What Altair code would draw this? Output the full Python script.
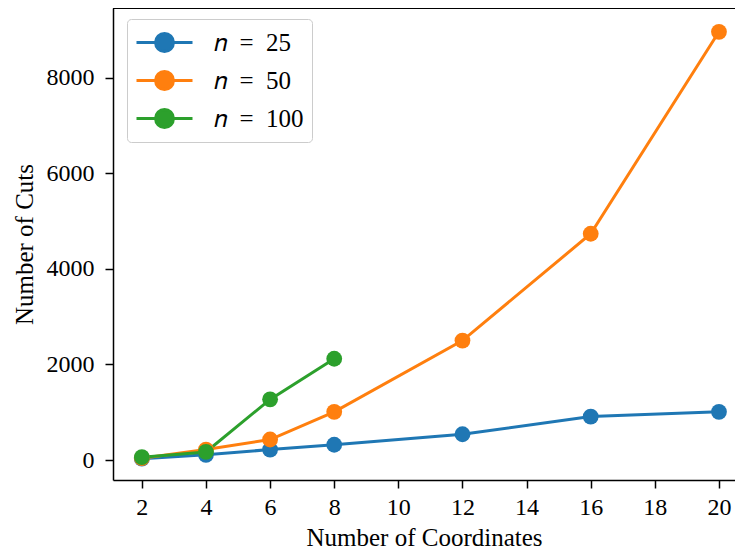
import altair as alt
import pandas as pd

coords_25 = [2, 4, 6, 8, 12, 16, 20]
cuts_25 = [30, 110, 220, 320, 540, 910, 1010]
coords_50 = [2, 4, 6, 8, 12, 16, 20]
cuts_50 = [40, 220, 430, 1010, 2500, 4735, 8960]
coords_100 = [2, 4, 6, 8]
cuts_100 = [60, 170, 1270, 2120]

series_labels = ["𝑛\u2002=\u200225", "𝑛\u2002=\u200250", "𝑛\u2002=\u2002100"]
series_colors = ["#1f77b4", "#ff7f0e", "#2ca02c"]

rows = []
for lab, xs, ys in zip(series_labels, [coords_25, coords_50, coords_100], [cuts_25, cuts_50, cuts_100]):
    for x, y in zip(xs, ys):
        rows.append({"coords": x, "cuts": y, "series": lab})
df = pd.DataFrame(rows)

FONT = "Liberation Serif"
W, H = 622, 472

color = alt.Color(
    "series:N",
    scale=alt.Scale(domain=series_labels, range=series_colors),
    legend=alt.Legend(
        title=None,
        orient="none",
        legendX=14,
        legendY=11,
        symbolType="M-2,0L2,0M0.64,0A0.64,0.64,0,1,1,-0.64,0A0.64,0.64,0,1,1,0.64,0Z",
        symbolSize=784,
        symbolStrokeWidth=3,
        symbolOffset=14,
        labelFont=FONT,
        labelFontSize=25,
        labelColor="black",
        rowPadding=7,
        labelOffset=34,
        padding=8,
        fillColor="rgba(255,255,255,0.8)",
        strokeColor="#cccccc",
        cornerRadius=4,
    ),
)

x = alt.X(
    "coords:Q",
    scale=alt.Scale(domain=[1.1, 20.5], nice=False, zero=False),
    axis=alt.Axis(
        values=[2, 4, 6, 8, 10, 12, 14, 16, 18, 20],
        title="Number of Coordinates",
        grid=False,
        tickSize=8,
        labelPadding=7,
        titlePadding=6,
    ),
)
y = alt.Y(
    "cuts:Q",
    scale=alt.Scale(domain=[-417, 9458], nice=False, zero=False),
    axis=alt.Axis(
        values=[0, 2000, 4000, 6000, 8000],
        format="d",
        title="Number of Cuts",
        grid=False,
        tickSize=8,
        labelPadding=11,
        titlePadding=9,
    ),
)

lines = alt.Chart(df).mark_line(strokeWidth=3).encode(
    x=x, y=y, color=color, detail="series:N",
    order=alt.Order("coords:Q"),
)
points = alt.Chart(df).mark_point(filled=True, size=250, opacity=1, shape="circle").encode(
    x=x, y=y, color=alt.Color("series:N", scale=alt.Scale(domain=series_labels, range=series_colors), legend=None),
)
top_spine = alt.Chart(df).mark_rule(color="black", strokeWidth=1.5).encode(
    x=alt.value(0), x2=alt.value(W), y=alt.value(0)
)

chart = alt.layer(lines, points, top_spine).properties(
    width=W, height=H,
    autosize=alt.AutoSizeParams(type="none"),
    padding={"left": 105, "top": 0, "right": 0, "bottom": 70},
).configure_view(stroke=None).configure_axis(
    labelFont=FONT, titleFont=FONT, labelFontSize=24, titleFontSize=25,
    titleFontWeight="normal", labelColor="black", titleColor="black",
    domainColor="black", tickColor="black", domainWidth=1.5, tickWidth=1.5,
)

chart.save("out.html", embed_options={"renderer": "svg", "actions": False})
